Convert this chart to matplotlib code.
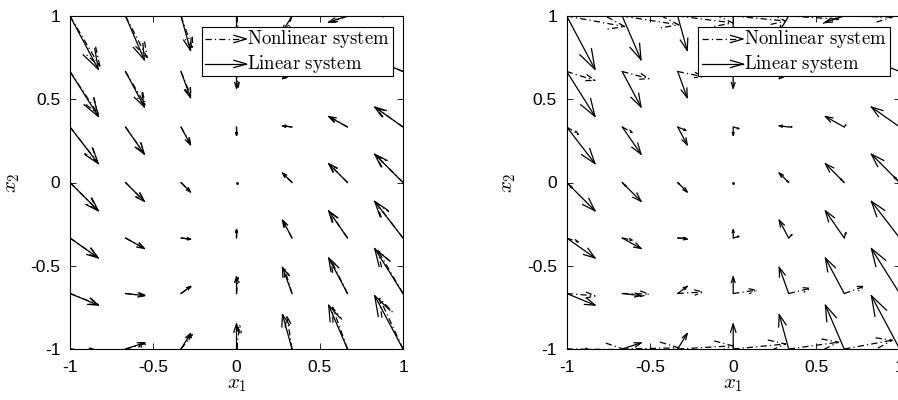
import numpy as np
import matplotlib
matplotlib.use('Agg')
import matplotlib.pyplot as plt
from matplotlib.patches import Rectangle

plt.rcParams['mathtext.fontset'] = 'cm'
plt.rcParams['font.family'] = ['Liberation Sans', 'DejaVu Sans']

# grid of the phase portrait
x_grid = [-1, -2/3, -1/3, 0, 1/3, 2/3, 1]
y_grid = [-1, -2/3, -1/3, 0, 1/3, 2/3, 1]

# arrows, rows go from x2 = -1 up to x2 = 1
u_lin = [[0.17, 0.113, 0.057, 0.0, -0.057, -0.113, -0.17]] * 7
v_lin = [
    [-0.02, 0.037, 0.093, 0.15, 0.207, 0.263, 0.32],
    [-0.07, -0.013, 0.043, 0.10, 0.157, 0.213, 0.27],
    [-0.12, -0.063, -0.007, 0.05, 0.107, 0.163, 0.22],
    [-0.17, -0.113, -0.057, 0.0, 0.057, 0.113, 0.17],
    [-0.22, -0.163, -0.107, -0.05, 0.007, 0.063, 0.12],
    [-0.27, -0.213, -0.157, -0.10, -0.043, 0.013, 0.07],
    [-0.32, -0.263, -0.207, -0.15, -0.093, -0.037, 0.02],
]

# nonlinear system, left plot (almost the linear one)
u_nl1 = [
    [0.18, 0.13, 0.07, 0.02, -0.03, -0.09, -0.14],
    [0.17, 0.12, 0.06, 0.01, -0.045, -0.10, -0.15],
    [0.164, 0.11, 0.056, 0.002, -0.052, -0.105, -0.16],
    [0.162, 0.107, 0.054, 0.0, -0.054, -0.107, -0.162],
    [0.164, 0.11, 0.056, 0.002, -0.052, -0.105, -0.16],
    [0.17, 0.12, 0.06, 0.01, -0.045, -0.10, -0.15],
    [0.18, 0.13, 0.07, 0.02, -0.03, -0.09, -0.14],
]
v_nl1 = [
    [-0.02, 0.035, 0.088, 0.143, 0.197, 0.25, 0.304],
    [-0.067, -0.012, 0.041, 0.095, 0.149, 0.202, 0.257],
    [-0.114, -0.06, -0.007, 0.048, 0.102, 0.155, 0.209],
    [-0.162, -0.107, -0.054, 0.0, 0.054, 0.107, 0.162],
    [-0.209, -0.155, -0.102, -0.048, 0.007, 0.06, 0.114],
    [-0.257, -0.202, -0.149, -0.095, -0.041, 0.012, 0.067],
    [-0.304, -0.25, -0.197, -0.143, -0.088, -0.035, 0.02],
]

# nonlinear system, right plot
u_nl2 = [
    [0.35, 0.34, 0.33, 0.315, 0.30, 0.29, 0.28],
    [0.17, 0.16, 0.15, 0.14, 0.13, 0.12, 0.11],
    [0.07, 0.06, 0.05, 0.035, 0.02, 0.01, 0.0],
    [0.034, 0.023, 0.011, 0.0, -0.011, -0.023, -0.034],
    [0.07, 0.06, 0.05, 0.035, 0.02, 0.01, 0.0],
    [0.17, 0.16, 0.15, 0.14, 0.13, 0.12, 0.11],
    [0.35, 0.34, 0.33, 0.315, 0.30, 0.29, 0.28],
]
v_nl2 = [
    [-0.004, 0.007, 0.019, 0.03, 0.041, 0.053, 0.064],
    [-0.014, -0.003, 0.009, 0.02, 0.031, 0.043, 0.054],
    [-0.024, -0.013, -0.001, 0.01, 0.021, 0.033, 0.044],
    [-0.034, -0.023, -0.011, 0.0, 0.011, 0.023, 0.034],
    [-0.044, -0.033, -0.021, -0.01, 0.001, 0.013, 0.024],
    [-0.054, -0.043, -0.031, -0.02, -0.009, 0.003, 0.014],
    [-0.064, -0.053, -0.041, -0.03, -0.019, -0.007, 0.004],
]

ticks = [-1, -0.5, 0, 0.5, 1]
tick_labels = ['-1', '-0.5', '0', '0.5', '1']
legend_labels = [r'$\mathrm{Nonlinear\ system}$', r'$\mathrm{Linear\ system}$']

DASHDOT = (0, (5, 2.5, 1, 2.5))


def draw_field(ax, u, v, ls):
    # matlab style quiver: shaft + two open head strokes
    a, b = 0.33, 0.33
    X, Y = np.meshgrid(x_grid, y_grid)
    U, V = np.array(u), np.array(v)
    tx, ty = X + U, Y + V
    hx1 = tx - a * (U + b * V)
    hy1 = ty - a * (V - b * U)
    hx2 = tx - a * (U - b * V)
    hy2 = ty - a * (V + b * U)
    nan = np.full_like(X, np.nan, dtype=float)
    sx = np.stack([X, tx, nan], -1).ravel()
    sy = np.stack([Y, ty, nan], -1).ravel()
    hx = np.stack([hx1, tx, hx2, nan], -1).ravel()
    hy = np.stack([hy1, ty, hy2, nan], -1).ravel()
    ax.plot(sx, sy, color='k', ls=ls, lw=0.9)
    ax.plot(hx, hy, color='k', ls=ls, lw=0.9)
    zero = (U == 0) & (V == 0)
    ax.plot(X[zero], Y[zero], 'k.', ms=1.5)


def draw_legend(ax):
    ax.add_patch(Rectangle((0.3955, 0.82), 0.5755, 0.148, transform=ax.transAxes,
                           facecolor='white', edgecolor='k', lw=0.8, zorder=5))
    for yy, ls, lab in [(0.931, DASHDOT, legend_labels[0]), (0.856, '-', legend_labels[1])]:
        ax.plot([0.405, 0.53], [yy, yy], transform=ax.transAxes, color='k', ls=ls,
                lw=0.9, zorder=6, clip_on=False)
        ax.plot([0.492, 0.53, 0.492], [yy + 0.011, yy, yy - 0.011], transform=ax.transAxes,
                color='k', ls='-', lw=0.9, zorder=6, clip_on=False)
        ax.text(0.533, yy, lab, transform=ax.transAxes, va='center', ha='left',
                fontsize=13.5, zorder=7)


fig = plt.figure(figsize=(8.98, 4.0), dpi=100)
ax1 = fig.add_axes([70 / 898, 51 / 400, 333 / 898, 333 / 400])
ax2 = fig.add_axes([566.7 / 898, 51 / 400, 333 / 898, 333 / 400])

for ax, un, vn in [(ax1, u_nl1, v_nl1), (ax2, u_nl2, v_nl2)]:
    draw_field(ax, un, vn, DASHDOT)
    draw_field(ax, u_lin, v_lin, '-')
    draw_legend(ax)
    ax.set_xlim(-1, 1)
    ax.set_ylim(-1, 1)
    ax.set_xticks(ticks)
    ax.set_xticklabels(tick_labels)
    ax.set_yticks(ticks)
    ax.set_yticklabels(tick_labels)
    ax.tick_params(direction='in', top=True, right=True, length=4, width=0.6,
                   labelsize=12.5)
    ax.tick_params(axis='x', pad=8)
    ax.tick_params(axis='y', pad=7)
    for s in ax.spines.values():
        s.set_linewidth(0.8)
    ax.set_xlabel(r'$x_1$', fontsize=15, va='center')
    ax.set_ylabel(r'$x_2$', fontsize=15, va='center', ha='center')
    ax.xaxis.set_label_coords(0.5, -0.108)
    ax.yaxis.set_label_coords(-0.174, 0.5)

fig.savefig('out.png', dpi=100)
